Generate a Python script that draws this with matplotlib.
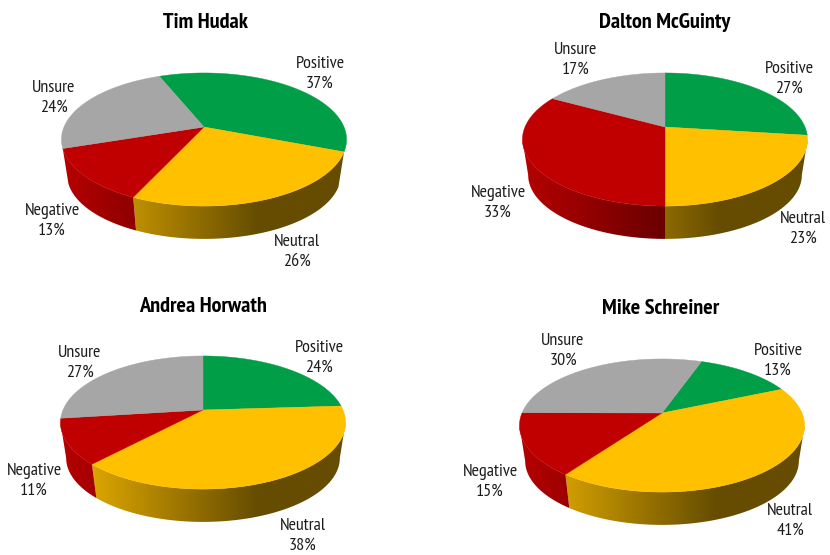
"""Four tilted 3D pies of candidate impressions, saved to out.png."""

from __future__ import annotations

import matplotlib

matplotlib.use("Agg")
import matplotlib.pyplot as plt
import numpy as np
from matplotlib.colors import to_rgb
from matplotlib.patches import Polygon

CATEGORIES = ["Positive", "Neutral", "Negative", "Unsure"]
COLORS = ["#009E47", "#FFC000", "#C00000", "#A6A6A6"]

NAMES = ["Tim Hudak", "Dalton McGuinty", "Andrea Horwath", "Mike Schreiner"]
TIM = [37, 26, 13, 24]
DALTON = [27, 23, 33, 17]
ANDREA = [24, 38, 11, 27]
MIKE = [13, 41, 15, 30]
VALUES = [TIM, DALTON, ANDREA, MIKE]

# Layout, in figure pixels from the top left
HUBS = [(204, 127), (665, 127), (203, 410), (662, 413)]
START_ANGLES = [112, 90, 90, 70.6]
TITLE_POS = [(205, 22), (665, 22), (203, 306), (661, 308)]
LABEL_POS = [
    [(320, 74), (297, 252), (52, 221), (54, 98)],
    [(789, 79), (803, 229), (498, 203), (576, 60)],
    [(319, 358), (303, 536), (34, 481), (80, 363)],
    [(778, 361), (790, 521), (490, 482), (563, 351)],
]

# Perspective of the disc: near rim bulges, far rim shrinks
PERSP = 0.188
RX = 140.0
RY = 64.2
BOTTOM_SCALE = 0.96
BOTTOM_DROP = 36.0
MIN_RIM_DEG = 12

TEXT = "#1c1c1c"
FONT = ["PT Sans Narrow", "Archivo Narrow", "Liberation Sans", "DejaVu Sans"]


def project(theta: np.ndarray) -> tuple[np.ndarray, np.ndarray]:
    """Disc angle (radians) to pixel offset from the hub, y pointing down."""
    u = np.cos(theta)
    v = np.sin(theta)
    den = 1 + PERSP * v
    return RX * u / den, -RY * v / den


def rim_gradient(color: str, n: int = 300) -> np.ndarray:
    # darkens left to right, flat once it reaches 40%
    t = np.linspace(0, 1, n)
    return np.clip(0.95 - 0.8 * t, 0.4, 1.0)[None, :, None] * np.array(to_rgb(color))


def draw_pie(ax, values, hub, start) -> None:
    cx, cy = hub
    fracs = np.array(values, dtype=float) / sum(values)
    edges = start - 360 * np.concatenate([[0], np.cumsum(fracs)])

    all_x, _ = project(np.linspace(0, 2 * np.pi, 720))
    left, right = cx + all_x.min(), cx + all_x.max()

    # only the arc facing the viewer has a visible rim
    front_hi = -np.rad2deg(np.arcsin(PERSP))
    front_lo = -180 - front_hi

    for a0, a1, color in zip(edges[:-1], edges[1:], COLORS, strict=True):
        # a slice may start past the back of the disc, so try it a turn lower too
        for turn in (0, -360):
            hi = min(a0 + turn, front_hi)
            lo = max(a1 + turn, front_lo)
            # slivers at the silhouette just read as stray colour
            if hi - lo < MIN_RIM_DEG:
                continue
            th = np.deg2rad(np.linspace(hi, lo, 120))
            x, y = project(th)
            top = np.column_stack([cx + x, cy + y])
            bot = np.column_stack(
                [cx + BOTTOM_SCALE * x, cy + BOTTOM_DROP + BOTTOM_SCALE * y]
            )
            patch = Polygon(
                np.vstack([top, bot[::-1]]),
                closed=True,
                transform=ax.transData,
                facecolor="none",
                edgecolor="none",
            )
            ax.add_patch(patch)
            im = ax.imshow(
                rim_gradient(color),
                extent=(left, right, cy + 130, cy),
                aspect="auto",
                interpolation="bilinear",
                zorder=2,
            )
            im.set_clip_path(patch)

    for a0, a1, color in zip(edges[:-1], edges[1:], COLORS, strict=True):
        th = np.deg2rad(np.linspace(a0, a1, 160))
        x, y = project(th)
        ax.fill(
            np.r_[cx, cx + x],
            np.r_[cy, cy + y],
            facecolor=color,
            edgecolor=color,
            linewidth=0.3,
            zorder=3,
        )


def main() -> None:
    fig = plt.figure(figsize=(8.30, 5.55), dpi=100)
    ax = fig.add_axes([0, 0, 1, 1])

    for name, values, hub, start, tpos, lpos in zip(
        NAMES, VALUES, HUBS, START_ANGLES, TITLE_POS, LABEL_POS, strict=True
    ):
        draw_pie(ax, values, hub, start)
        ax.text(
            *tpos,
            name,
            ha="center",
            va="center",
            fontsize=16,
            fontweight="bold",
            family=FONT,
            color="black",
        )
        for cat, val, pos in zip(CATEGORIES, values, lpos, strict=True):
            ax.text(
                *pos,
                f"{cat}\n{val}%",
                ha="center",
                va="center",
                fontsize=13,
                linespacing=1.3,
                family=FONT,
                color=TEXT,
            )

    ax.set_xlim(0, 830)
    ax.set_ylim(555, 0)
    ax.axis("off")
    fig.savefig("out.png", dpi=100)


if __name__ == "__main__":
    main()
